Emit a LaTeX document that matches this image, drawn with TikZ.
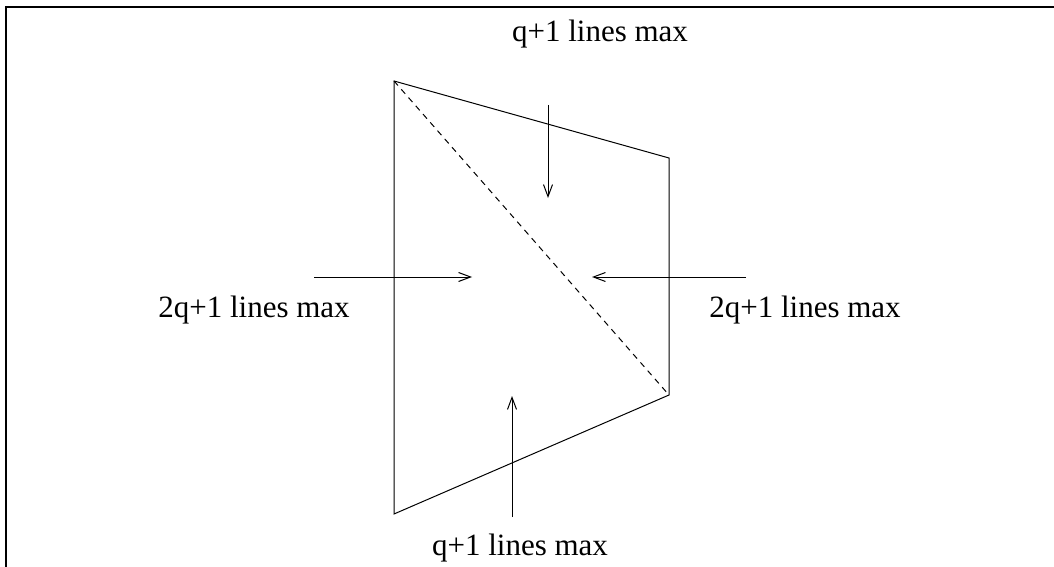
\documentclass[tikz,border=0pt]{standalone}
\usepackage{fontspec}
\setmainfont{Liberation Serif}
\usetikzlibrary{arrows.meta}

\begin{document}
\begin{tikzpicture}[x=0.5pt,y=-0.5pt,
  edge/.style={line width=0.5pt},
  squeeze/.style={line width=0.5pt, -{Straight Barb[length=6pt,width=4.5pt]}},
  bound/.style={line width=0.5pt, black, text=black, anchor=base, inner sep=0pt,
    font=\fontsize{15.5}{18}\selectfont}]
\useasboundingbox (0,0) rectangle (1054,567);
\draw[line width=0.9pt] (6,567) -- (6,7) -- (1054,7);
% the cell
\coordinate (nw) at (394,81);
\coordinate (ne) at (669,158);
\coordinate (se) at (669,395);
\coordinate (sw) at (394,514);
\draw[edge] (nw) -- (ne) -- (se) -- (sw) -- cycle;
\draw[edge, dashed, dash pattern=on 3pt off 2.5pt] (nw) -- (se);
% arrows in
\coordinate (topfrom) at (548,105);
\coordinate (topto) at (548,198);
\coordinate (leftfrom) at (314,277);
\coordinate (leftto) at (472,277);
\coordinate (rightfrom) at (746,277);
\coordinate (rightto) at (592,277);
\coordinate (botfrom) at (512,517);
\coordinate (botto) at (512,396);
\draw[squeeze] (topfrom) -- (topto);
\draw[squeeze] (leftfrom) -- (leftto);
\draw[squeeze] (rightfrom) -- (rightto);
\draw[squeeze] (botfrom) -- (botto);
% labels
\node[bound] (toplabel) at (600,42) {q+1 lines max};
\node[bound] (botlabel) at (520,555) {q+1 lines max};
\node[bound] (leftlabel) at (254,317) {2q+1 lines max};
\node[bound] (rightlabel) at (805,317) {2q+1 lines max};
\end{tikzpicture}
\end{document}
